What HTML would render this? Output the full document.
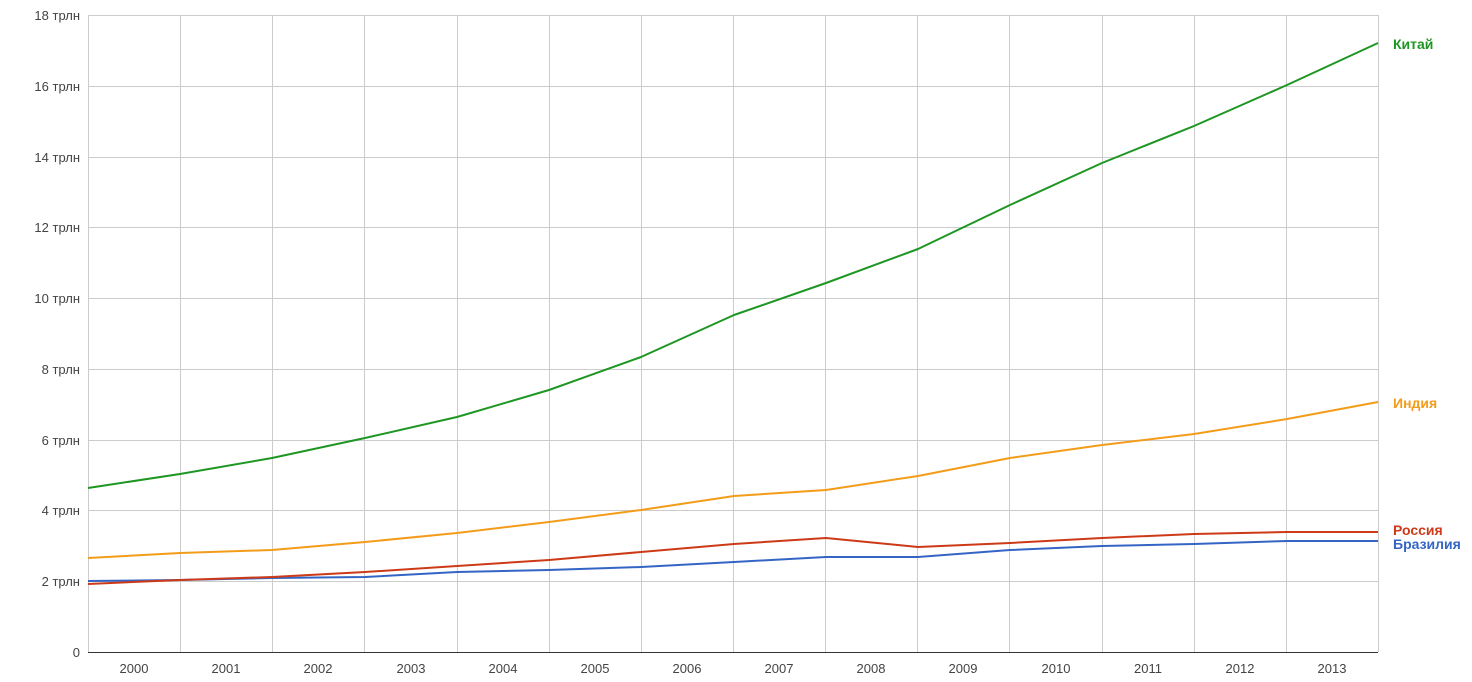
<!DOCTYPE html>
<html><head><meta charset="utf-8"><style>
html,body{margin:0;padding:0;background:#fff;}
svg{display:block;font-family:"Liberation Sans",Arial,sans-serif;}
</style></head><body>
<svg width="1472" height="682" xmlns="http://www.w3.org/2000/svg">
<g stroke="#cccccc" stroke-width="1" shape-rendering="crispEdges">
<line x1="88" x2="1378" y1="15.5" y2="15.5"/>
<line x1="88" x2="1378" y1="86.5" y2="86.5"/>
<line x1="88" x2="1378" y1="157.5" y2="157.5"/>
<line x1="88" x2="1378" y1="227.5" y2="227.5"/>
<line x1="88" x2="1378" y1="298.5" y2="298.5"/>
<line x1="88" x2="1378" y1="369.5" y2="369.5"/>
<line x1="88" x2="1378" y1="440.5" y2="440.5"/>
<line x1="88" x2="1378" y1="510.5" y2="510.5"/>
<line x1="88" x2="1378" y1="581.5" y2="581.5"/>
<line x1="88.5" x2="88.5" y1="15" y2="652"/>
<line x1="180.5" x2="180.5" y1="15" y2="652"/>
<line x1="272.5" x2="272.5" y1="15" y2="652"/>
<line x1="364.5" x2="364.5" y1="15" y2="652"/>
<line x1="457.5" x2="457.5" y1="15" y2="652"/>
<line x1="549.5" x2="549.5" y1="15" y2="652"/>
<line x1="641.5" x2="641.5" y1="15" y2="652"/>
<line x1="733.5" x2="733.5" y1="15" y2="652"/>
<line x1="825.5" x2="825.5" y1="15" y2="652"/>
<line x1="917.5" x2="917.5" y1="15" y2="652"/>
<line x1="1009.5" x2="1009.5" y1="15" y2="652"/>
<line x1="1102.5" x2="1102.5" y1="15" y2="652"/>
<line x1="1194.5" x2="1194.5" y1="15" y2="652"/>
<line x1="1286.5" x2="1286.5" y1="15" y2="652"/>
<line x1="1378.5" x2="1378.5" y1="15" y2="652"/>
</g>
<line x1="88" x2="1378" y1="652.5" y2="652.5" stroke="#333" stroke-width="1"/>
<g font-size="13" fill="#444" text-anchor="end">
<text x="80" y="20">18 трлн</text>
<text x="80" y="91">16 трлн</text>
<text x="80" y="162">14 трлн</text>
<text x="80" y="232">12 трлн</text>
<text x="80" y="303">10 трлн</text>
<text x="80" y="374">8 трлн</text>
<text x="80" y="445">6 трлн</text>
<text x="80" y="515">4 трлн</text>
<text x="80" y="586">2 трлн</text>
<text x="80" y="657">0</text>
</g>
<g font-size="13" fill="#444" text-anchor="middle">
<text x="134" y="673">2000</text>
<text x="226" y="673">2001</text>
<text x="318" y="673">2002</text>
<text x="411" y="673">2003</text>
<text x="503" y="673">2004</text>
<text x="595" y="673">2005</text>
<text x="687" y="673">2006</text>
<text x="779" y="673">2007</text>
<text x="871" y="673">2008</text>
<text x="963" y="673">2009</text>
<text x="1056" y="673">2010</text>
<text x="1148" y="673">2011</text>
<text x="1240" y="673">2012</text>
<text x="1332" y="673">2013</text>
</g>
<g fill="none" stroke-width="2" stroke-linejoin="round">
<polyline stroke="#1e9623" points="88,488 180,474 272,458 365,438 457,417 549,390 641,357 734,315 826,283 918,249 1010,205 1102,163 1194,126 1287,85 1378,43"/>
<polyline stroke="#f39c19" points="88,558 180,553 272,550 365,542 457,533 549,522 641,510 734,496 826,490 918,476 1010,458 1102,445 1194,434 1287,419 1378,402"/>
<polyline stroke="#3465c4" points="88,581 180,580 272,578 365,577 457,572 549,570 641,567 734,562 826,557 918,557 1010,550 1102,546 1194,544 1287,541 1378,541"/>
<polyline stroke="#cc3a17" points="88,584 180,580 272,577 365,572 457,566 549,560 641,552 734,544 826,538 918,547 1010,543 1102,538 1194,534 1287,532 1378,532"/>
</g>
<g font-size="14" font-weight="bold">
<text x="1393" y="49" fill="#1e9623">Китай</text>
<text x="1393" y="408" fill="#f39c19">Индия</text>
<text x="1393" y="535" fill="#cc3a17">Россия</text>
<text x="1393" y="549" fill="#3465c4">Бразилия</text>
</g>
</svg>
</body></html>
